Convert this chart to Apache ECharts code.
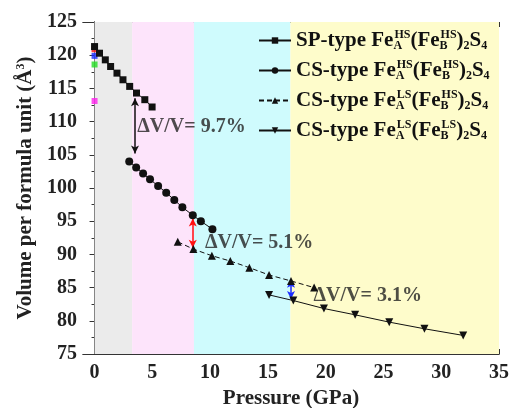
<!DOCTYPE html>
<html>
<head>
<meta charset="utf-8">
<script src="https://cdn.jsdelivr.net/npm/echarts@6/dist/echarts.min.js"></script>
<style>
  html, body { margin: 0; padding: 0; background: #fff; }
  #chart { width: 510px; height: 408px; }
</style>
</head>
<body>
<div id="chart"></div>
<script>
// SP-type FeA(HS)(FeB(HS))2S4
const spP = [0, 0.43, 0.93, 1.39, 1.94, 2.46, 3.04, 3.63, 4.35, 4.98];
const spV = [121.3, 120.3, 119.3, 118.3, 117.3, 116.3, 115.3, 114.3, 113.3, 112.2];
// CS-type FeA(HS)(FeB(HS))2S4
const csHsP = [3.0, 3.6, 4.2, 4.8, 5.5, 6.2, 6.9, 7.6, 8.5, 9.2, 10.2];
const csHsV = [104.0, 103.1, 102.2, 101.3, 100.3, 99.3, 98.2, 97.1, 95.9, 95.0, 93.8];
// CS-type FeA(LS)(FeB(HS))2S4
const csLsHsP = [7.2, 8.55, 10.15, 11.75, 13.4, 15.1, 17.0, 19.0];
const csLsHsV = [91.9, 90.8, 89.8, 89.0, 88.0, 86.9, 86.0, 85.0];
// CS-type FeA(LS)(FeB(LS))2S4
const csLsLsP = [15.1, 17.2, 19.85, 22.55, 25.5, 28.55, 31.9];
const csLsLsV = [83.9, 83.05, 81.85, 80.9, 79.8, 78.8, 77.8];

// coloured reference points at 0 GPa
const refP = [0, 0, 0, 0];
const refV = [120.9, 119.9, 118.6, 113.1];
const refColors = ['#ff1010', '#1a2cff', '#22dd22', '#ff22ee'];

// shaded pressure ranges
const bandEdges = [0, 3.25, 8.6, 16.95, 35];
const bandColors = ['#ebebeb', '#fde4fb', '#cffbfd', '#fefccb'];

// volume collapse arrows [P, Vtop, Vbottom]
const jumpP = [3.5, 8.5, 17.0];
const jumpTop = [113.5, 95.4, 86.2];
const jumpBottom = [105.2, 91.0, 83.3];
const jumpColors = ['#111', '#ff1010', '#1a2cff'];

// ΔV/V labels
const noteP = [3.7, 9.55, 18.95];
const noteV = [109.2, 91.7, 83.7];
const noteText = ['ΔV/V= 9.7%', 'ΔV/V= 5.1%', 'ΔV/V= 3.1%'];

const xMajor = [0, 5, 10, 15, 20, 25, 30, 35];
const xMinor = [2.5, 7.5, 12.5, 17.5, 22.5, 27.5, 32.5];

const names = ['SP-type HS-HS', 'CS-type HS-HS', 'CS-type LS-HS', 'CS-type LS-LS'];
// sub (width 1) then sup, so they stack
const legendText = {
  'SP-type HS-HS': '{m|SP-type Fe}{b|A}{p|HS}{m|(Fe}{b|B}{p|HS}{m|)}{s|2}{m|S}{s|4}',
  'CS-type HS-HS': '{m|CS-type Fe}{b|A}{p|HS}{m|(Fe}{b|B}{p|HS}{m|)}{s|2}{m|S}{s|4}',
  'CS-type LS-HS': '{m|CS-type Fe}{b|A}{p|LS}{m|(Fe}{b|B}{p|HS}{m|)}{s|2}{m|S}{s|4}',
  'CS-type LS-LS': '{m|CS-type Fe}{b|A}{p|LS}{m|(Fe}{b|B}{p|LS}{m|)}{s|2}{m|S}{s|4}'
};

function zip(a, b) {
  return a.map((v, i) => [v, b[i]]);
}

const FONT = 'Liberation Serif';
const axisColor = '#333';

let chart = echarts.init(document.getElementById('chart'), null, { renderer: 'canvas' });

function xAxisDef(pos, ticks, len, showLabel) {
  return {
    type: 'value',
    position: pos,
    min: -1,
    max: 35,
    axisLine: { show: true, onZero: false, lineStyle: { color: axisColor, width: 1 } },
    axisTick: { show: true, inside: true, length: len, customValues: ticks, lineStyle: { color: axisColor } },
    axisLabel: {
      show: showLabel,
      customValues: xMajor,
      margin: 9,
      color: '#222',
      fontFamily: FONT,
      fontWeight: 'bold',
      fontSize: 20
    },
    splitLine: { show: false }
  };
}

let xAxes = [
  xAxisDef('bottom', xMajor, 5, true),
  xAxisDef('bottom', xMinor, 3, false),
  xAxisDef('top', xMajor, 5, false),
  xAxisDef('top', xMinor, 3, false)
];
xAxes[0].name = 'Pressure (GPa)';
xAxes[0].nameLocation = 'middle';
xAxes[0].nameGap = 32;
xAxes[0].nameTextStyle = { color: '#222', fontFamily: FONT, fontWeight: 'bold', fontSize: 21 };

function yAxisDef(pos, showLabel) {
  return {
    type: 'value',
    position: pos,
    min: 75,
    max: 125,
    interval: 5,
    axisLine: { show: true, lineStyle: { color: axisColor, width: 1 } },
    axisTick: { show: true, inside: true, length: 5, lineStyle: { color: axisColor } },
    minorTick: { show: true, splitNumber: 2, length: 3, lineStyle: { color: axisColor } },
    axisLabel: {
      show: showLabel,
      margin: 6,
      color: '#222',
      fontFamily: FONT,
      fontWeight: 'bold',
      fontSize: 20
    },
    splitLine: { show: false }
  };
}

let yAxes = [yAxisDef('left', true), yAxisDef('right', false)];
yAxes[0].name = 'Volume per formula unit (Å{s|3})';
yAxes[0].nameLocation = 'middle';
yAxes[0].nameGap = 46;
yAxes[0].nameTextStyle = {
  color: '#222', fontFamily: FONT, fontWeight: 'bold', fontSize: 21,
  rich: {
    s: { fontFamily: FONT, fontWeight: 'bold', fontSize: 12, verticalAlign: 'top', color: '#222' }
  }
};

const lineBase = {
  type: 'line',
  xAxisIndex: 0,
  yAxisIndex: 0,
  showSymbol: true,
  symbolSize: 8,
  color: '#111',
  lineStyle: { color: '#111', width: 1 },
  itemStyle: { color: '#111' },
  emphasis: { disabled: true },
  z: 5
};

let option = {
  backgroundColor: '#fff',
  animation: false,
  grid: { left: 83, right: 11, top: 22, bottom: 54, containLabel: false, outerBoundsMode: 'none' },
  xAxis: xAxes,
  yAxis: yAxes,
  legend: {
    data: names,
    orient: 'vertical',
    left: 253,
    top: 24,
    itemWidth: 32,
    itemHeight: 8,
    itemGap: 7,
    formatter: function (name) { return legendText[name]; },
    textStyle: {
      color: '#111',
      rich: {
        m: { fontFamily: FONT, fontWeight: 'bold', fontSize: 21, lineHeight: 23, color: '#111' },
        p: { fontFamily: FONT, fontWeight: 'bold', fontSize: 12, verticalAlign: 'top', color: '#111' },
        b: { fontFamily: FONT, fontWeight: 'bold', fontSize: 12, width: 1, verticalAlign: 'bottom', color: '#111' },
        s: { fontFamily: FONT, fontWeight: 'bold', fontSize: 12, verticalAlign: 'bottom', color: '#111' }
      }
    }
  },
  series: [
    {
      name: 'bands',
      type: 'line',
      data: [],
      silent: true,
      markArea: {
        silent: true,
        data: bandColors.map((c, i) => [
          { xAxis: bandEdges[i], itemStyle: { color: c } },
          { xAxis: bandEdges[i + 1] }
        ])
      },
      z: 1
    },
    {
      name: 'reference',
      type: 'scatter',
      symbol: 'rect',
      symbolSize: 6,
      data: refP.map((p, i) => ({ value: [p, refV[i]], itemStyle: { color: refColors[i] } })),
      emphasis: { disabled: true },
      z: 4
    },
    Object.assign({}, lineBase, {
      name: names[0],
      symbol: 'rect',
      symbolSize: 7,
      data: zip(spP, spV)
    }),
    Object.assign({}, lineBase, {
      name: names[1],
      symbol: 'circle',
      symbolSize: 8,
      data: zip(csHsP, csHsV)
    }),
    Object.assign({}, lineBase, {
      name: names[2],
      symbol: 'triangle',
      symbolSize: 8,
      lineStyle: { color: '#111', width: 1, type: [5, 3] },
      data: zip(csLsHsP, csLsHsV)
    }),
    Object.assign({}, lineBase, {
      name: names[3],
      symbol: 'triangle',
      symbolRotate: 180,
      symbolSize: 8,
      data: zip(csLsLsP, csLsLsV)
    }),
    {
      name: 'notes',
      type: 'scatter',
      symbolSize: 0,
      data: noteP.map((p, i) => [p, noteV[i], noteText[i]]),
      label: {
        show: true,
        position: 'right',
        distance: 0,
        formatter: function (params) { return params.value[2]; },
        color: '#222',
        fontFamily: FONT,
        fontWeight: 'bold',
        fontSize: 20
      },
      emphasis: { disabled: true },
      markLine: {
        silent: true,
        symbol: ['arrow', 'arrow'],
        symbolSize: [6, 8],
        label: { show: false },
        data: jumpP.map((p, i) => [
          { coord: [p, jumpTop[i]], lineStyle: { color: jumpColors[i], width: 1.5, type: 'solid' } },
          { coord: [p, jumpBottom[i]] }
        ])
      },
      z: 6
    }
  ]
};

chart.setOption(option);
</script>
</body>
</html>
